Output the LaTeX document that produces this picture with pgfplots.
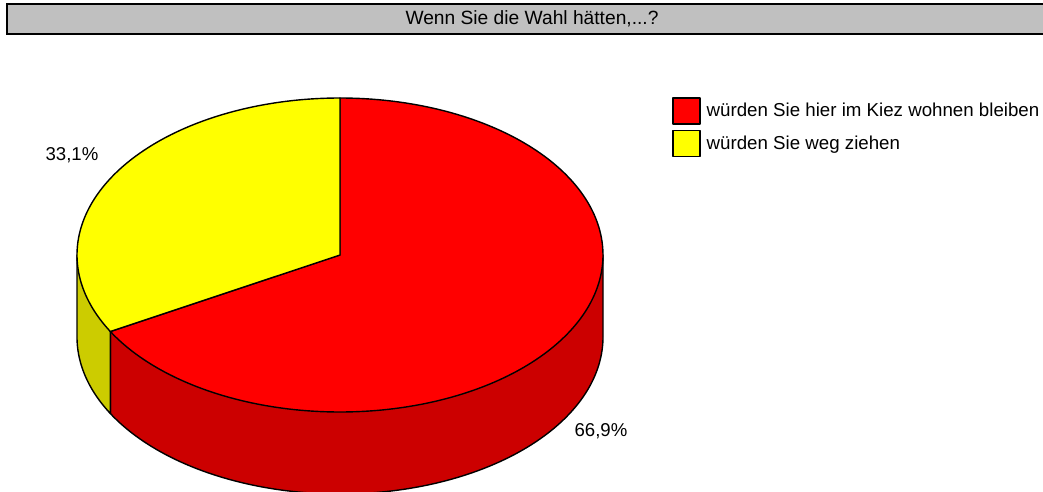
\documentclass[border=0pt]{standalone}
\usepackage{pgfplots}
\usepackage{pgfplotstable}
\pgfplotsset{compat=1.18}
\usepackage{fontspec}
\setmainfont{Liberation Sans}

\definecolor{pieRed}{HTML}{FF0000}
\definecolor{pieRedSide}{HTML}{CC0000}
\definecolor{pieYel}{HTML}{FFFF00}
\definecolor{pieYelSide}{HTML}{CCCC00}
\definecolor{barGray}{HTML}{C0C0C0}

% Anteile in Prozent
\pgfplotstableread{
label   value
bleiben 66.9
weg     33.1
}\piedata

\begin{document}
\begin{tikzpicture}
\pgfplotstablegetelem{0}{value}\of\piedata \let\valA\pgfplotsretval
% Grenzwinkel: Start bei 12 Uhr, rot im Uhrzeigersinn
\pgfmathsetmacro\angB{90-3.6*\valA}
\pgfmathsetmacro\angC{\angB+360}
\pgfmathsetmacro\bx{340+263*cos(\angB)}
\pgfmathsetmacro\by{255-157*sin(\angB)}
\begin{axis}[
    width=1043pt, height=492pt,
    scale only axis,
    xmin=0, xmax=1043, ymin=0, ymax=492,
    y dir=reverse,
    hide axis,
    clip=false,
    legend style={
        at={(axis cs:672,97)}, anchor=north west,
        draw=none, fill=none, inner sep=0pt,
        row sep=5pt,
        font=\fontsize{18.7}{21}\selectfont,
        nodes={inner sep=0pt, anchor=west},
        /tikz/every odd column/.append style={column sep=6pt},
    },
    legend cell align=left,
    legend image code/.code={
        \draw[#1, line width=1.5pt] (0pt,-13pt) rectangle (27pt,13pt);
    },
]
% Titelleiste
\draw[fill=barGray, line width=1.5pt] (7,4) rectangle (1070,34);
\node[font=\fontsize{19.2}{22}\selectfont] at (532,19) {Wenn Sie die Wahl hätten,...?};

% Seitenflaechen
\addplot[fill=pieRedSide, draw=black, line width=1.4pt, line join=round,
    domain=\angC:360, samples=150, forget plot]
    ({340+263*cos(x)}, {337-157*sin(x)}) -- (603,255) -- (\bx,\by) -- cycle;
\addplot[fill=pieYelSide, draw=black, line width=1.4pt, line join=round,
    domain=180:\angC, samples=60, forget plot]
    ({340+263*cos(x)}, {337-157*sin(x)}) -- (\bx,\by) -- (77,255) -- cycle;

% Deckflaechen
\addplot[fill=pieRed, draw=black, line width=1.4pt, line join=round,
    domain=\angB:90, samples=200]
    ({340+263*cos(x)}, {255-157*sin(x)}) -- (340,255) -- cycle;
\addlegendentry{würden Sie hier im Kiez wohnen bleiben}
\addplot[fill=pieYel, draw=black, line width=1.4pt, line join=round,
    domain=90:\angC, samples=120]
    ({340+263*cos(x)}, {255-157*sin(x)}) -- (340,255) -- cycle;
\addlegendentry{würden Sie weg ziehen}

\node[font=\fontsize{18.6}{21}\selectfont] at (72,155) {33,1\%};
\node[font=\fontsize{18.6}{21}\selectfont] at (601,431) {66,9\%};

\coordinate (BL) at (rel axis cs:0,0);
\coordinate (TR) at (rel axis cs:1,1);
\end{axis}
\pgfresetboundingbox
\path[use as bounding box] (BL) rectangle (TR);
\end{tikzpicture}
\end{document}
